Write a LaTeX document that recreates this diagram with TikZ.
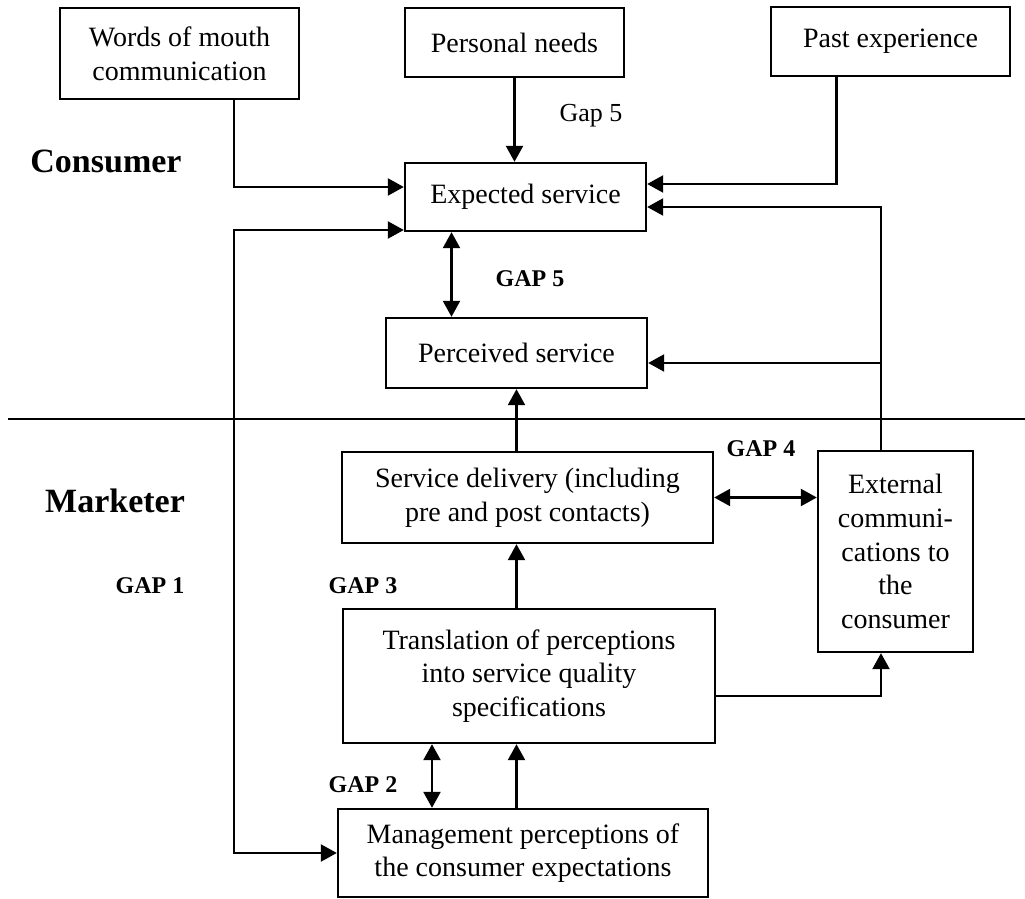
\documentclass[tikz,border=0pt]{standalone}
\usepackage{fontspec}
\setmainfont{Liberation Serif}
\usetikzlibrary{arrows.meta}
\tikzset{
  box/.style={draw, align=center, inner sep=0pt, font=\fontsize{14}{16.8}\selectfont},
  gaplabel/.style={anchor=base, font=\fontsize{12}{14}\selectfont\bfseries},
  side/.style={anchor=base, font=\fontsize{17}{20}\selectfont\bfseries}
}
\begin{document}
\begin{tikzpicture}[x=0.5pt, y=-0.5pt, line width=1.2pt, >={Triangle[length=8pt,width=8.5pt]}]
          \useasboundingbox (0,0) rectangle (1025,899);
          \node[box, minimum width=119.5pt, minimum height=45.5pt] (wom) at (179.5,53.5) {Words of mouth\\communication};
          \node[box, minimum width=109.5pt, minimum height=34.5pt] (pn) at (514.5,42.5) {Personal needs};
          \node[box, minimum width=119.5pt, minimum height=34.5pt] (pe) at (890.5,41.5) {Past experience};
          \node[box, minimum width=120.5pt, minimum height=34pt] (es) at (525.5,197) {Expected service};
          \node[box, minimum width=130.5pt, minimum height=35pt] (ps) at (516.5,353) {Perceived service};
          \node[box, minimum width=185.5pt, minimum height=45.5pt] (sd) at (527.5,497.5) {Service delivery (including\\pre and post contacts)};
          \node[box, minimum width=77.5pt, minimum height=100.5pt] (ec) at (895.5,551.5) {External\\communi-\\cations to\\the\\consumer};
          \node[box, minimum width=186pt, minimum height=67pt] (tr) at (529,676) {Translation of perceptions\\into service quality\\specifications};
          \node[box, minimum width=185pt, minimum height=44pt] (mp) at (523,853) {Management perceptions of\\the consumer expectations};
          \node[side] (cons) at (106,173) {Consumer};
          \node[side] (mark) at (115,512) {Marketer};
          \node[anchor=base, font=\fontsize{13}{15}\selectfont] (gapfive) at (591,122) {Gap 5};
          \node[gaplabel] (g5) at (530,287) {GAP 5};
          \node[gaplabel] (g4) at (761,457) {GAP 4};
          \node[gaplabel] (g1) at (150,593) {GAP 1};
          \node[gaplabel] (g3) at (363,593) {GAP 3};
          \node[gaplabel] (g2) at (363,792) {GAP 2};
          \coordinate (xa) at (234,0);
          \coordinate (xb) at (881,0);
          \draw[line width=1pt] (8,419) -- (1025,419);
          \draw[->] (wom.south -| xa) |- ([yshift=5pt]es.west);
          \path[->] (pn) edge (pn |- es.north);
          \draw[->] ([xshift=-27pt]pe.south) |- ([yshift=6.5pt]es.east);
          \draw[->] (ec.north -| xb) |- ([yshift=-5pt]es.east);
          \draw[->] ([yshift=-5pt]ps.east -| xb) -- ([yshift=-5pt]ps.east);
          \path[<->] ([xshift=-37pt]es.south) edge ([xshift=-37pt]es.south |- ps.north);
          \draw[<->] ([yshift=-16.5pt]es.west) -| (xa |- mp.west) -- (mp.west);
          \path[->] (sd.north -| ps) edge (ps.south);
          \path[<->] (sd.east) edge (sd.east -| ec.west);
          \path[->] (tr.north -| ps) edge (sd.south -| ps);
          \draw[->] ([yshift=-10pt]tr.east) -| (ec.south -| xb);
          \path[<->] ([xshift=-45.5pt]mp.north) edge ([xshift=-45.5pt]mp.north |- tr.south);
          \path[->] (mp.north -| ps) edge (tr.south -| ps);
        \end{tikzpicture}
\end{document}
